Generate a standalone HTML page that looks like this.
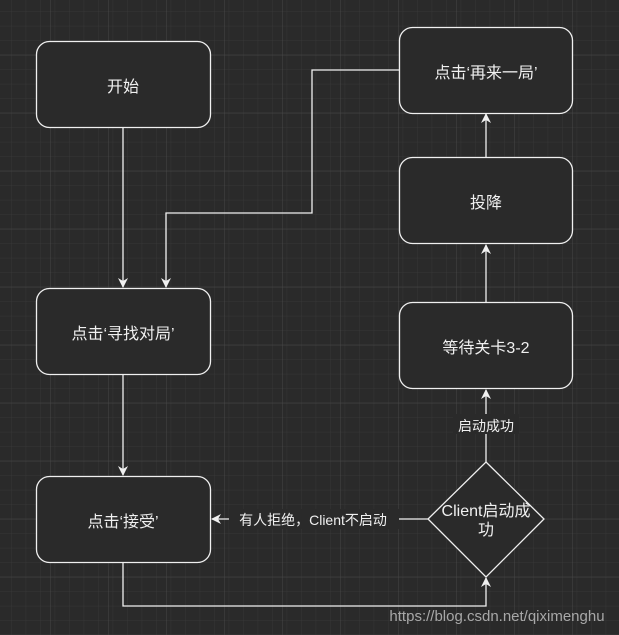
<!DOCTYPE html>
<html><head><meta charset="utf-8"><style>
html,body{margin:0;padding:0;}
body{width:619px;height:635px;overflow:hidden;background:#2a2a2a;}
svg{display:block;}
text{font-family:"Liberation Sans","Noto Sans CJK SC",sans-serif;fill:#f0f0f0;}
</style></head><body>
<svg width="619" height="635" viewBox="0 0 619 635" xmlns="http://www.w3.org/2000/svg">
<defs>
<pattern id="minor" x="-2.8" y="-2.7" width="14.5" height="14.5" patternUnits="userSpaceOnUse">
<path d="M14.5 0V14.5M0 14.5H14.5" stroke="#373737" stroke-width="1" fill="none"/>
</pattern>
<pattern id="major" x="-7.3" y="-2.7" width="58" height="58" patternUnits="userSpaceOnUse">
<path d="M58 0V58M0 58H58" stroke="#474747" stroke-width="1" fill="none"/>
</pattern>
<marker id="ar" markerWidth="10" markerHeight="10" refX="9" refY="5" orient="auto" markerUnits="userSpaceOnUse">
<path d="M0,0 L10,5 L0,10 L3,5 Z" fill="#f0f0f0"/>
</marker>
</defs>
<rect width="619" height="635" fill="url(#minor)"/>
<rect width="619" height="635" fill="url(#major)"/>
<g stroke="#f0f0f0" stroke-width="1.3" fill="none">
<path d="M123 128V287" marker-end="url(#ar)"/>
<path d="M399 70H312V213H166V287" marker-end="url(#ar)"/>
<path d="M123 375V475" marker-end="url(#ar)"/>
<path d="M123 563V606H486V578" marker-end="url(#ar)"/>
<path d="M428 519H398"/>
<path d="M229 519H212" marker-end="url(#ar)"/>
<path d="M486 462V390" marker-end="url(#ar)"/>
<path d="M486 302V245" marker-end="url(#ar)"/>
<path d="M486 157V114" marker-end="url(#ar)"/>
</g>
<g stroke="#f0f0f0" stroke-width="1.3" fill="#2a2a2a">
<rect x="36.5" y="41.5" width="174" height="86" rx="13"/>
<rect x="399.5" y="27.5" width="173" height="86" rx="13"/>
<rect x="399.5" y="157.5" width="173" height="86" rx="13"/>
<rect x="399.5" y="302.5" width="173" height="86" rx="13"/>
<rect x="36.5" y="288.5" width="174" height="86" rx="13"/>
<rect x="36.5" y="476.5" width="174" height="86" rx="13"/>
<path d="M486 462L544 519L486 577L428 519Z"/>
</g>
<rect x="453" y="414" width="66" height="20" fill="#2a2a2a"/>
<rect x="229" y="509" width="170" height="20" fill="#2a2a2a"/>
<g font-size="16" text-anchor="middle">
<text x="123" y="92">开始</text>
<text x="486" y="78">点击‘再来一局’</text>
<text x="486" y="208">投降</text>
<text x="486" y="353">等待关卡3-2</text>
<text x="123" y="339">点击‘寻找对局’</text>
<text x="123" y="527">点击‘接受’</text>
<text x="486" y="516">Client启动成</text>
<text x="486" y="535">功</text>
</g>
<g font-size="14" text-anchor="middle">
<text x="486" y="431">启动成功</text>
<text x="313" y="525">有人拒绝，Client不启动</text>
</g>
<text x="497" y="621" font-size="15" text-anchor="middle" style="fill:#a8a8a8">https://blog.csdn.net/qiximenghu</text>
</svg>
</body></html>
